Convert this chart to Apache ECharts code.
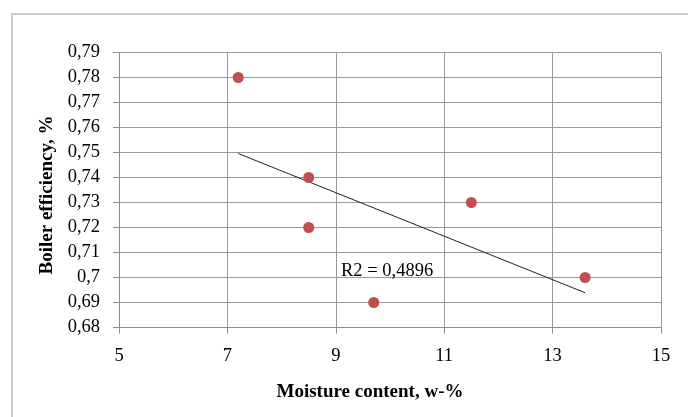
<!DOCTYPE html>
<html>
<head>
<meta charset="utf-8">
<script src="https://cdn.jsdelivr.net/npm/echarts@6/dist/echarts.min.js"></script>
<style>
  html, body { margin: 0; padding: 0; background: #fff; }
  #chart { width: 688px; height: 417px; }
</style>
</head>
<body>
<div id="chart"></div>
<script>
// Measured samples: moisture content (w-%) vs. boiler efficiency
const moisture = [7.2, 8.5, 8.5, 9.7, 11.5, 13.6];
const efficiency = [0.78, 0.74, 0.72, 0.69, 0.73, 0.70];

// Linear trend line end points
const trendX = [7.2, 13.6];
const trendY = [0.7496, 0.6939];

const r2Text = 'R2 = 0,4896';

const xTicks = [5, 7, 9, 11, 13, 15];
const yTicks = [0.68, 0.69, 0.70, 0.71, 0.72, 0.73, 0.74, 0.75, 0.76, 0.77, 0.78, 0.79];

const serif = '"Liberation Serif", "Times New Roman", serif';

const chart = echarts.init(document.getElementById('chart'), null, { renderer: 'canvas' });

const fmtComma = v => String(Math.round(v * 100) / 100).replace('.', ',');

chart.setOption({
  backgroundColor: '#ffffff',
  animation: false,
  graphic: [
    {
      type: 'rect',
      shape: { x: 12, y: 14, width: 720, height: 440 },
      style: { fill: 'none', stroke: '#bdbdbd', lineWidth: 1.5 },
      silent: true,
      z: 0
    },
    {
      type: 'text',
      left: 341,
      top: 262,
      style: { text: r2Text, font: '18.5px ' + serif, fill: '#000' },
      z: 10
    }
  ],
  grid: { left: 119, top: 52.5, right: 27, bottom: 89.5, containLabel: false },
  xAxis: {
    type: 'value',
    min: xTicks[0],
    max: xTicks[xTicks.length - 1],
    interval: 2,
    name: 'Moisture content, w-%',
    nameLocation: 'middle',
    nameGap: 55,
    nameTextStyle: { fontFamily: serif, fontWeight: 'bold', fontSize: 19, color: '#000', padding: [0, 40, 0, 0] },
    axisLine: { show: true, lineStyle: { color: '#8c8c8c', width: 1 } },
    axisTick: { show: true, length: 6, inside: false, lineStyle: { color: '#8c8c8c' } },
    axisLabel: { margin: 19, fontFamily: serif, fontSize: 18.5, color: '#000' },
    splitLine: { show: true, lineStyle: { color: '#999999', width: 1 } }
  },
  yAxis: {
    type: 'value',
    min: yTicks[0],
    max: yTicks[yTicks.length - 1],
    interval: 0.01,
    name: 'Boiler efficiency, %',
    nameLocation: 'middle',
    nameGap: 62,
    nameTextStyle: { fontFamily: serif, fontWeight: 'bold', fontSize: 19, color: '#000', padding: [0, 10, 0, 0] },
    axisLine: { show: true, lineStyle: { color: '#8c8c8c', width: 1 } },
    axisTick: { show: true, length: 6, inside: false, lineStyle: { color: '#8c8c8c' } },
    axisLabel: { margin: 19, fontFamily: serif, fontSize: 18.5, color: '#000', formatter: fmtComma },
    splitLine: { show: true, lineStyle: { color: '#999999', width: 1 } }
  },
  series: [
    {
      type: 'line',
      data: trendX.map((x, i) => [x, trendY[i]]),
      showSymbol: false,
      symbol: 'none',
      lineStyle: { color: '#222222', width: 1 },
      z: 3
    },
    {
      type: 'scatter',
      data: moisture.map((x, i) => [x, efficiency[i]]),
      symbol: 'circle',
      symbolSize: 11,
      itemStyle: { color: '#c0504d', opacity: 1 },
      z: 4
    }
  ]
});
</script>
</body>
</html>
